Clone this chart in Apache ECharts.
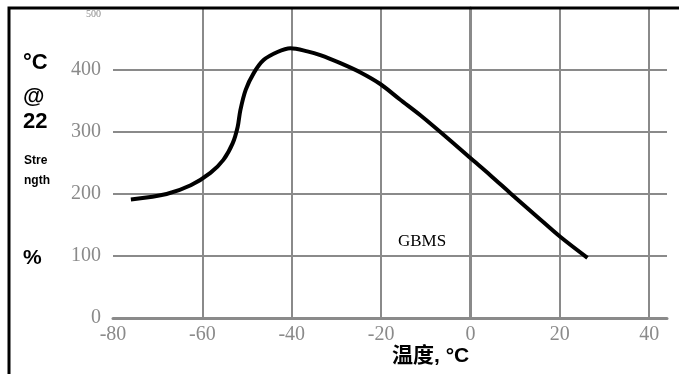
<!DOCTYPE html>
<html>
<head>
<meta charset="utf-8">
<script src="https://cdn.jsdelivr.net/npm/echarts@6/dist/echarts.min.js"></script>
<style>
  html, body { margin: 0; padding: 0; background: #fff; }
  #chart { width: 679px; height: 374px; }
</style>
</head>
<body>
<div id="chart"></div>
<script>
// 曲线数据: 温度 (°C) 与 强度 (%)
var tempValues = [-76, -68, -62.6, -58.2, -55.3, -53.2, -52.1, -51.5, -50.3, -48.5, -46.3, -43.2, -40.3, -36.5, -33.6, -29.1, -24.6, -20.1, -15.7, -11.2, -5.1, 0, 4.5, 9, 15, 20.1, 26.2];
var strengthValues = [191, 200, 214, 234, 255, 282, 308, 335, 368, 395, 416, 429, 435, 430, 424, 411, 396, 377, 352, 327, 290, 258, 230, 201, 163, 131, 97];
// 横轴竖线的位置
var xGridValues = [-60, -40, -20, 0, 20, 40];

var gray = '#8a8a8a';
var serif = '"Liberation Serif", "DejaVu Serif", serif';
var sans = '"Liberation Sans", Arial, sans-serif';

var points = tempValues.map(function (t, i) { return [t, strengthValues[i]]; });

var option = {
  animation: false,
  grid: { left: 113, right: 12, top: 8, bottom: 56 },
  xAxis: {
    type: 'value',
    min: -80,
    max: 44,
    interval: 20,
    axisLine: { lineStyle: { color: gray, width: 3 } },
    axisTick: { show: false },
    splitLine: { show: false },
    axisLabel: {
      margin: 7,
      color: gray,
      fontFamily: serif,
      fontSize: 20,
      formatter: function (v) { return v % 20 === 0 ? String(v) : ''; }
    }
  },
  yAxis: {
    type: 'value',
    min: 0,
    max: 500,
    interval: 100,
    axisLine: { show: true, lineStyle: { color: gray, width: 3 } },
    axisTick: { show: true, length: 10, lineStyle: { color: gray, width: 2 } },
    splitLine: { lineStyle: { color: gray, width: 2 } },
    axisLabel: {
      margin: 12,
      color: gray,
      fontFamily: serif,
      fontSize: 20,
      formatter: function (v) { return v === 500 ? '{s|500}' : String(v); },
      rich: { s: { fontSize: 10, color: gray, fontFamily: serif, padding: [12, 0, 0, 0] } }
    }
  },
  series: [{
    type: 'line',
    data: points,
    smooth: 0.3,
    showSymbol: false,
    lineStyle: { color: '#000', width: 4 },
    z: 5,
    markLine: {
      silent: true,
      symbol: 'none',
      label: { show: false },
      lineStyle: { color: gray, width: 2, type: 'solid' },
      z: 1,
      data: xGridValues.map(function (v) { return { xAxis: v }; })
    }
  }],
  graphic: [
    { type: 'rect', shape: { x: 9, y: 8, width: 720, height: 420 }, style: { fill: 'none', stroke: '#000', lineWidth: 3 }, z: 10 },
    { type: 'text', left: 23, top: 52, style: { text: '°C', font: 'bold 22px ' + sans, fill: '#000' } },
    { type: 'text', left: 23, top: 86, style: { text: '@', font: 'bold 22px ' + sans, fill: '#000' } },
    { type: 'text', left: 23, top: 111, style: { text: '22', font: 'bold 22px ' + sans, fill: '#000' } },
    { type: 'text', left: 24, top: 155, style: { text: 'Stre', font: 'bold 12px ' + sans, fill: '#000' } },
    { type: 'text', left: 24, top: 175, style: { text: 'ngth', font: 'bold 12px ' + sans, fill: '#000' } },
    { type: 'text', left: 23, top: 248, style: { text: '%', font: 'bold 21px ' + sans, fill: '#000' } },
    { type: 'text', left: 398, top: 233, style: { text: 'GBMS', font: '17px ' + serif, fill: '#000' } },
    { type: 'text', left: 392, top: 346, style: { text: '温度, °C', font: 'bold 21px "Liberation Sans", "Noto Sans CJK SC", sans-serif', fill: '#000' } }
  ]
};

var myChart = echarts.init(document.getElementById('chart'));
myChart.setOption(option);
</script>
</body>
</html>
